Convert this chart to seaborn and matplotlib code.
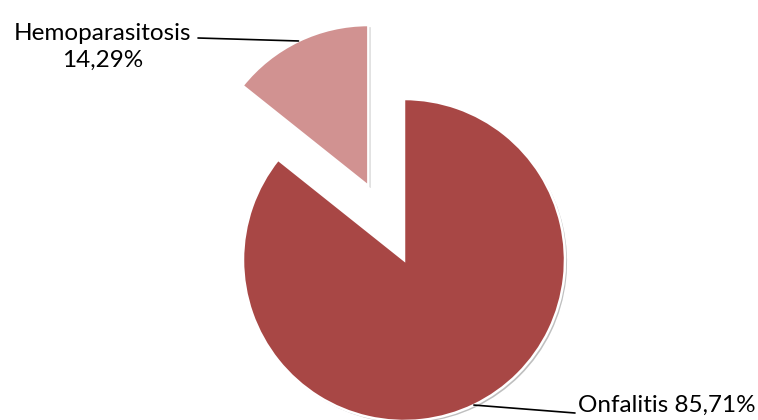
import numpy as np
import matplotlib
matplotlib.use("Agg")
import matplotlib.pyplot as plt
import matplotlib.patheffects as pe
import seaborn as sns

# Diagnosis shares (%)
categories = ["Onfalitis", "Hemoparasitosis"]
values = [85.71, 14.29]
value_labels = ["85,71%", "14,29%"]
colors = ["#A84745", "#D19291"]

sns.set_theme(style="white")
plt.rcParams["font.family"] = ["Lato", "DejaVu Sans"]

fig = plt.figure(figsize=(7.58, 4.2), dpi=100)
ax = fig.add_axes([0, 0, 1, 1])

center = (404, 160)
radius = 161
# explode distance is given in data units
explode = [0.0, 0.51 * radius]

shadow = [pe.SimplePatchShadow(offset=(1.5, -1.5), shadow_rgbFace="#000000", alpha=0.25),
          pe.Normal()]
wedges, _ = ax.pie(values, colors=colors, startangle=90, counterclock=False,
                   explode=explode, center=center, radius=radius, frame=True,
                   wedgeprops=dict(edgecolor="white", linewidth=1.8,
                                   path_effects=shadow))
ax.set_xlim(0, 758)
ax.set_ylim(0, 420)
ax.set_aspect("equal")
ax.axis("off")

def arc_mid(w):
    t = np.deg2rad((w.theta1 + w.theta2) / 2)
    cx, cy = w.center
    return cx + w.r * np.cos(t), cy + w.r * np.sin(t)

fs = 17.5
# Onfalitis label (lower right)
ax0 = arc_mid(wedges[0])
ax.plot([ax0[0], 575], [ax0[1], 7], color="black", lw=1.2)
ax.text(578, 15, f"{categories[0]} {value_labels[0]}", ha="left", va="center",
        fontsize=fs, color="black")

# Hemoparasitosis label (upper left)
ax1 = arc_mid(wedges[1])
ax.plot([198, ax1[0]], [382, ax1[1]], color="black", lw=1.2)
ax.text(103, 373, f"{categories[1]}\n{value_labels[1]}", ha="center", va="center",
        multialignment="center", fontsize=fs, color="black", linespacing=1.35)

fig.savefig("out.png", dpi=100)
